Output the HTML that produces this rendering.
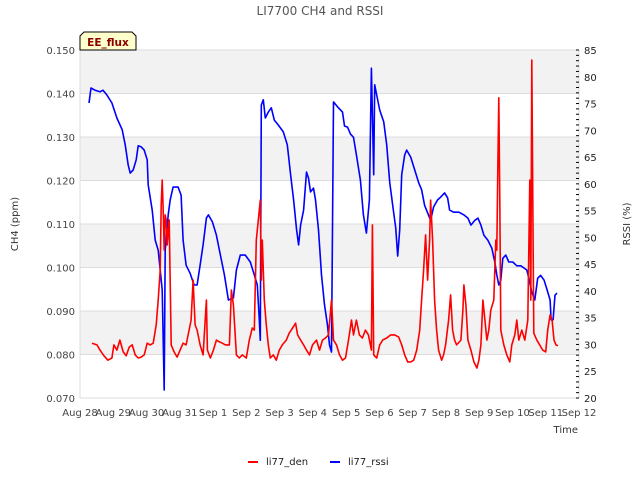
<!DOCTYPE html>
<html><head><meta charset="utf-8">
<style>
body{margin:0;background:#fff;}
svg{display:block;font-family:"DejaVu Sans","Liberation Sans",sans-serif;}
</style></head>
<body>
<svg id="chart" width="640" height="480" viewBox="0 0 640 480">
<text x="320" y="15" text-anchor="middle" font-size="12" fill="#555">LI7700 CH4 and RSSI</text>
<g id="bands"></g>
<g id="grid"></g>
<g id="ticks"></g>
<g id="series"></g>
<g>
<path d="M80,50 L80,36 L84,32 L132,32 L136,36 L136,50 Z" fill="#ffffcc" stroke="#000" stroke-width="1"/>
<text x="108" y="46" text-anchor="middle" font-size="10.5" font-weight="bold" fill="#8b0000">EE_flux</text>
</g>
<text transform="translate(18,224) rotate(-90)" text-anchor="middle" font-size="10" fill="#333">CH4 (ppm)</text>
<text transform="translate(630,224) rotate(-90)" text-anchor="middle" font-size="10" fill="#333">RSSI (%)</text>
<text x="578" y="433" text-anchor="end" font-size="10" fill="#333">Time</text>
<g>
<g><line x1="248" y1="462" x2="258" y2="462" stroke="#f00" stroke-width="2"/><text x="266" y="465" font-size="10" fill="#222">li77_den</text></g>
<g><line x1="330" y1="462" x2="340" y2="462" stroke="#00f" stroke-width="2"/><text x="348" y="465" font-size="10" fill="#222">li77_rssi</text></g>
</g>
</svg>
<script>
const xTickLabels = ["Aug 28","Aug 29","Aug 30","Aug 31","Sep 1","Sep 2","Sep 3","Sep 4","Sep 5","Sep 6","Sep 7","Sep 8","Sep 9","Sep 10","Sep 11","Sep 12"];
const leftTicks = [0.070,0.080,0.090,0.100,0.110,0.120,0.130,0.140,0.150];
const rightTicks = [20,25,30,35,40,45,50,55,60,65,70,75,80,85];
const rssiDays = [0.27,0.33,0.45,0.60,0.69,0.81,0.96,1.11,1.27,1.36,1.45,1.51,1.60,1.69,1.75,1.84,1.93,2.02,2.05,2.17,2.26,2.35,2.41,2.47,2.53,2.56,2.65,2.71,2.80,2.95,3.04,3.10,3.19,3.31,3.43,3.52,3.61,3.70,3.80,3.86,3.98,4.10,4.22,4.34,4.46,4.61,4.70,4.82,4.97,5.12,5.24,5.33,5.39,5.42,5.45,5.51,5.57,5.66,5.75,5.84,5.96,6.11,6.23,6.33,6.42,6.51,6.57,6.63,6.72,6.81,6.87,6.93,7.02,7.08,7.17,7.26,7.35,7.44,7.50,7.56,7.62,7.74,7.89,7.95,8.04,8.13,8.22,8.31,8.43,8.52,8.61,8.70,8.76,8.83,8.86,8.92,9.01,9.13,9.22,9.31,9.40,9.49,9.55,9.61,9.67,9.76,9.82,9.94,10.06,10.18,10.27,10.36,10.45,10.54,10.63,10.75,10.84,10.96,11.05,11.11,11.23,11.39,11.54,11.66,11.75,11.87,11.96,12.05,12.14,12.26,12.38,12.47,12.53,12.59,12.65,12.71,12.80,12.89,13.01,13.13,13.25,13.34,13.43,13.49,13.58,13.67,13.76,13.85,13.95,14.04,14.13,14.16,14.22,14.28,14.34];
const rssiValues = [75.1,77.9,77.5,77.2,77.5,76.6,75.1,72.3,70.1,67.3,63.5,62.0,62.6,64.5,67.1,66.9,66.3,64.5,59.8,55.1,49.5,47.6,43.9,40.2,21.5,47.6,54.2,57.0,59.4,59.4,57.9,49.5,44.8,43.3,41.1,41.1,44.8,48.6,53.6,54.2,52.9,50.4,46.7,43.0,38.3,38.7,43.9,46.7,46.7,45.4,43.0,41.1,34.6,30.8,74.7,75.7,72.3,73.4,74.2,71.9,71.0,69.7,67.3,61.7,57.0,51.4,48.6,52.3,55.1,62.2,61.1,58.5,59.2,57.0,51.4,43.0,37.4,33.6,29.9,28.6,75.3,74.4,73.4,70.8,70.6,69.3,68.7,65.4,60.7,54.2,50.8,57.0,81.6,61.7,78.5,76.6,73.8,71.6,67.3,60.3,56.0,51.8,46.5,51.4,61.7,65.4,66.3,65.0,62.6,60.2,58.9,56.0,54.6,53.2,55.7,57.0,57.5,58.3,57.4,55.1,54.7,54.7,54.2,53.6,52.3,53.2,53.6,52.3,50.4,49.5,48.0,45.4,43.0,41.1,42.0,46.1,46.7,45.4,45.4,44.7,44.7,44.3,43.9,42.4,39.8,38.3,42.4,42.9,42.0,40.2,38.3,34.6,34.6,39.2,39.6];
const denDays = [0.36,0.51,0.60,0.72,0.84,0.96,1.02,1.11,1.20,1.30,1.39,1.48,1.57,1.66,1.75,1.84,1.93,2.02,2.11,2.20,2.29,2.35,2.41,2.44,2.47,2.50,2.53,2.56,2.59,2.62,2.68,2.74,2.83,2.92,3.01,3.10,3.19,3.28,3.34,3.40,3.46,3.52,3.61,3.70,3.80,3.83,3.92,4.01,4.10,4.19,4.28,4.37,4.49,4.55,4.61,4.70,4.79,4.88,5.00,5.09,5.18,5.24,5.30,5.36,5.42,5.45,5.48,5.54,5.60,5.66,5.72,5.81,5.90,5.99,6.08,6.20,6.29,6.39,6.48,6.54,6.63,6.72,6.81,6.90,6.99,7.11,7.20,7.29,7.38,7.47,7.56,7.62,7.71,7.80,7.89,7.98,8.07,8.16,8.22,8.31,8.40,8.49,8.58,8.67,8.76,8.79,8.83,8.92,9.01,9.10,9.22,9.34,9.46,9.58,9.67,9.76,9.85,9.94,10.03,10.12,10.21,10.27,10.33,10.39,10.45,10.51,10.54,10.60,10.66,10.72,10.78,10.87,10.93,10.99,11.08,11.14,11.20,11.26,11.32,11.45,11.51,11.54,11.60,11.66,11.75,11.84,11.93,11.99,12.05,12.11,12.17,12.23,12.29,12.35,12.44,12.50,12.53,12.56,12.59,12.62,12.65,12.74,12.83,12.92,12.98,13.07,13.13,13.19,13.28,13.37,13.46,13.52,13.55,13.58,13.61,13.64,13.73,13.82,13.91,14.00,14.06,14.13,14.19,14.25,14.31,14.37];
const denValues = [0.0826,0.0822,0.0810,0.0797,0.0787,0.0792,0.0822,0.0810,0.0833,0.0806,0.0797,0.0817,0.0822,0.0799,0.0792,0.0794,0.0799,0.0826,0.0822,0.0826,0.0868,0.0925,0.0994,0.1144,0.1201,0.1132,0.1040,0.1121,0.1109,0.1052,0.1109,0.0822,0.0806,0.0794,0.0810,0.0826,0.0822,0.0856,0.0879,0.0971,0.0868,0.0856,0.0822,0.0799,0.0925,0.0810,0.0792,0.0810,0.0833,0.0829,0.0826,0.0822,0.0822,0.0948,0.0914,0.0799,0.0792,0.0799,0.0792,0.0833,0.0861,0.0856,0.1063,0.1109,0.1155,0.0971,0.1063,0.0925,0.0868,0.0822,0.0792,0.0799,0.0787,0.0810,0.0822,0.0833,0.0849,0.0861,0.0872,0.0845,0.0833,0.0822,0.0810,0.0799,0.0822,0.0833,0.0810,0.0833,0.0838,0.0845,0.0925,0.0833,0.0822,0.0799,0.0787,0.0792,0.0833,0.0879,0.0845,0.0879,0.0845,0.0838,0.0856,0.0845,0.0810,0.1098,0.0799,0.0792,0.0822,0.0833,0.0838,0.0845,0.0845,0.0840,0.0822,0.0799,0.0783,0.0783,0.0787,0.0810,0.0856,0.0925,0.0994,0.1075,0.0971,0.1063,0.1155,0.1063,0.0925,0.0856,0.0810,0.0787,0.0799,0.0822,0.0879,0.0937,0.0856,0.0833,0.0822,0.0833,0.0902,0.0960,0.0914,0.0833,0.0810,0.0783,0.0769,0.0787,0.0822,0.0925,0.0879,0.0833,0.0856,0.0902,0.0925,0.1063,0.1040,0.1224,0.1390,0.1155,0.0856,0.0822,0.0799,0.0783,0.0822,0.0845,0.0879,0.0833,0.0856,0.0833,0.0879,0.1201,0.0925,0.1477,0.1155,0.0849,0.0833,0.0822,0.0810,0.0806,0.0856,0.0891,0.0879,0.0833,0.0822,0.0820];

const X0=80, X1=579, Y0=50, Y1=398, NDAYS=15;
const NS="http://www.w3.org/2000/svg";
function xs(d){return X0+(X1-X0)*d/NDAYS;}
function yL(v){return Y1-(v-0.070)/(0.150-0.070)*(Y1-Y0);}
function yR(v){return Y1-(v-20)/(85-20)*(Y1-Y0);}
function mk(tag,attrs,parent){const e=document.createElementNS(NS,tag);for(const k in attrs)e.setAttribute(k,attrs[k]);parent.appendChild(e);return e;}
const bands=document.getElementById('bands'), grid=document.getElementById('grid'), ticks=document.getElementById('ticks'), series=document.getElementById('series');
for(let i=0;i<leftTicks.length-1;i++){
  if(i%2===1){
    const r=mk('rect',{x:X0,y:yL(leftTicks[i+1]),width:X1-X0,height:yL(leftTicks[i])-yL(leftTicks[i+1]),fill:'#f2f2f2'},bands);
    
    
  }
}
leftTicks.forEach(v=>{
  const y=yL(v);
  const l=mk('line',{x1:X0,x2:X1,y1:y,y2:y,stroke:'#dcdcdc','stroke-width':1},grid);
  
  
  const t=mk('text',{x:X0-5,y:y+4,'text-anchor':'end','font-size':10,fill:'#444'},ticks);
  t.textContent=v.toFixed(3);
  
  
});
mk('line',{x1:X0,x2:X0,y1:Y0,y2:Y1,stroke:'#dcdcdc'},grid);
mk('line',{x1:X1,x2:X1,y1:Y0,y2:Y1,stroke:'#dcdcdc'},grid);
mk('line',{x1:X0,x2:X1,y1:Y1,y2:Y1,stroke:'#dcdcdc'},grid);
for(let v=20;v<=85;v++){
  const y=yR(v);
  mk('line',{x1:X1-3,x2:X1,y1:y,y2:y,stroke:'#000','stroke-width':1},ticks);
}
rightTicks.forEach(v=>{
  const t=mk('text',{x:X1+5,y:yR(v)+4,'font-size':10,fill:'#222'},ticks);
  t.textContent=v;
  
  
});
xTickLabels.forEach((s,i)=>{
  const t=mk('text',{x:xs(i),y:416,'text-anchor':'middle','font-size':10,fill:'#444'},ticks);
  t.textContent=s;
  
  
});
const pb=mk('polyline',{points:rssiDays.map((d,i)=>xs(d).toFixed(1)+','+yR(rssiValues[i]).toFixed(1)).join(' '),fill:'none',stroke:'#0000ff','stroke-width':1.6,'stroke-linejoin':'round'},series);


const pr=mk('polyline',{points:denDays.map((d,i)=>xs(d).toFixed(1)+','+yL(denValues[i]).toFixed(1)).join(' '),fill:'none',stroke:'#ff0000','stroke-width':1.6,'stroke-linejoin':'round'},series);


</script>
</body></html>
